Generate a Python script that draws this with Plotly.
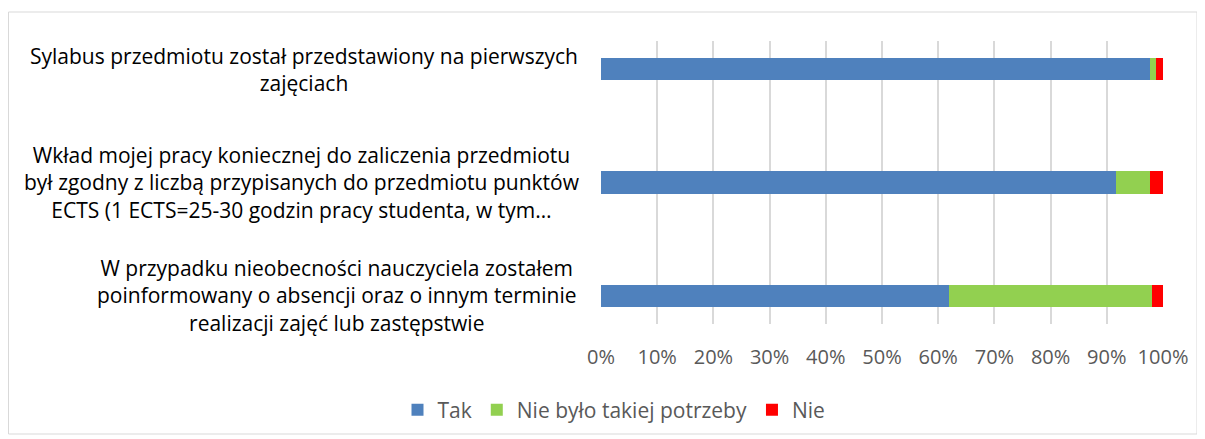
import plotly.graph_objects as go

categories = [
    "W przypadku nieobecności nauczyciela zostałem<br>poinformowany o absencji oraz o innym terminie<br>realizacji zajęć lub zastępstwie",
    "Wkład mojej pracy koniecznej do zaliczenia przedmiotu<br>był zgodny z liczbą przypisanych do przedmiotu punktów<br>ECTS (1 ECTS=25-30 godzin pracy studenta, w tym…",
    "Sylabus przedmiotu został przedstawiony na pierwszych<br>zajęciach",
]
tak = [62.0, 91.6, 97.7]
nie_bylo = [36.0, 6.1, 1.1]
nie = [2.0, 2.3, 1.2]
series_names = ["Tak", "Nie było takiej potrzeby", "Nie"]
series_colors = ["#4F81BD", "#92D050", "#FF0000"]
x_ticks = [0, 10, 20, 30, 40, 50, 60, 70, 80, 90, 100]
label_centers_px = [337, 302, 304]

# page body offset of 8 px
OFF = 8
W, H = 1205, 439
L, R, T, B = 601 - OFF, 1163 - OFF, 41 - OFF, 324 - OFF

fig = go.Figure()
for name, vals, col in zip(series_names, [tak, nie_bylo, nie], series_colors):
    fig.add_trace(go.Bar(
        y=categories, x=vals, name=name, orientation="h",
        marker=dict(color=col, line=dict(width=0)), width=0.194,
    ))

def px_to_paper_x(px):
    return (px - OFF - L) / (R - L)

def px_to_paper_y(py):
    return (B - (py - OFF)) / (B - T)

annotations = []
for cat, cx in zip(categories, label_centers_px):
    annotations.append(dict(
        x=px_to_paper_x(cx), xref="paper", y=cat, yref="y",
        text=cat, showarrow=False, xanchor="center", yanchor="middle",
        align="center", font=dict(family="Open Sans", size=21, color="#000000"),
    ))

fig.update_layout(
    width=W, height=H,
    barmode="stack",
    bargap=0.8,
    margin=dict(l=L, r=W - R, t=T, b=H - B),
    paper_bgcolor="white", plot_bgcolor="white",
    font=dict(family="Open Sans", size=18, color="#595959"),
    annotations=annotations,
    legend=dict(orientation="h", x=px_to_paper_x(614), xanchor="center",
                y=px_to_paper_y(410), yanchor="middle",
                font=dict(size=21, color="#595959"), itemwidth=30,
                traceorder="normal"),
    shapes=[dict(type="rect", xref="paper", yref="paper",
                 x0=px_to_paper_x(8.5), x1=px_to_paper_x(1197),
                 y0=px_to_paper_y(434), y1=px_to_paper_y(12),
                 line=dict(color="#d9d9d9", width=1), layer="below")],
)
fig.update_xaxes(
    range=[0, 100], tickvals=x_ticks, ticktext=[f"{v}%" for v in x_ticks],
    showgrid=True, gridcolor="#d9d9d9", gridwidth=2, zeroline=False,
    showline=False, ticks="outside", ticklen=15, tickcolor="rgba(0,0,0,0)",
    tickfont=dict(size=20, color="#595959"),
)
fig.update_yaxes(
    categoryorder="array", categoryarray=categories,
    range=[-0.247, 2.247], showticklabels=False, showgrid=False,
    zeroline=False, showline=False,
)
fig.write_html("out.html")
